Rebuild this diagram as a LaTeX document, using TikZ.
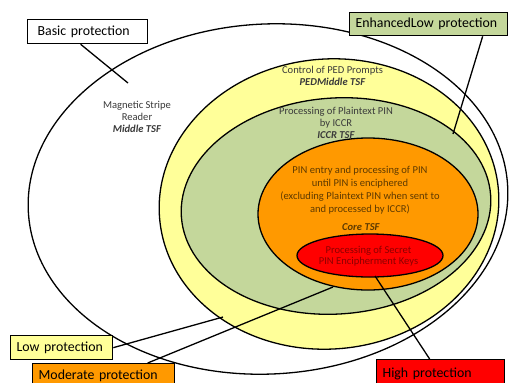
\documentclass[tikz,border=0pt]{standalone}
\usepackage{fontspec}
\setmainfont{Carlito}
\definecolor{yel}{HTML}{FFFF99}
\definecolor{grn}{HTML}{C4D79B}
\definecolor{org}{HTML}{FF9900}
\definecolor{rd}{HTML}{FF0000}
\definecolor{txtgray}{HTML}{3A3A3A}
\definecolor{txtbrown}{HTML}{5E3A00}
\definecolor{txtred}{HTML}{8C0000}
\newcommand{\smalltxt}{\fontsize{10.6}{12.3}\selectfont}
\newcommand{\biglab}{\fontsize{13.9}{16}\selectfont}
\tikzset{
  ring/.style={draw=black, line width=1.3bp},
  probox/.style={draw=black, line width=1.3bp, anchor=north west, font=\biglab,
    align=left, inner ysep=0pt, inner xsep=6bp, text=black},
  conn/.style={draw=black, line width=1.3bp},
  zonetxt/.style={align=center, inner sep=0pt, font=\smalltxt},
}
\begin{document}
\begin{tikzpicture}[x=1bp,y=-1bp]
\useasboundingbox (0,0) rectangle (509,382);
\clip (0,0) rectangle (509,382);
\fill[white] (0,0) rectangle (509,382);
% nested protection zones
\draw[ring, fill=white, rotate around={3:(268,199)}] (268,199) ellipse [x radius=240, y radius=175];
\draw[ring, fill=yel, rotate around={5:(329,204)}] (329,204) ellipse [x radius=170, y radius=145];
\draw[ring, fill=grn, rotate around={4:(336,206)}] (336,206) ellipse [x radius=155, y radius=108];
\draw[ring, fill=org] (368,214) ellipse [x radius=110, y radius=76];
\draw[ring, fill=rd] (370,255.5) ellipse [x radius=73, y radius=21.5];
% zone texts
\node[zonetxt, text=txtgray] (msr) at (137,117) {Magnetic Stripe\\Reader\\\textbf{\textit{Middle TSF}}};
\node[zonetxt, text=txtgray] (ped) at (332.5,76) {Control of PED Prompts\\\textbf{\textit{PEDMiddle TSF}}};
\node[zonetxt, text=txtgray] (iccr) at (336,123) {Processing of Plaintext PIN\\by ICCR\\\textbf{\textit{ICCR TSF}}};
\node[zonetxt, text=txtbrown, font=\fontsize{10.6}{13}\selectfont] (core) at (360,190.5) {PIN entry and processing of PIN\\until PIN is enciphered\\(excluding Plaintext PIN when sent to\\and processed by ICCR)};
\node[zonetxt, text=txtbrown] (coretsf) at (361,227) {\textbf{\textit{Core TSF}}};
\node[zonetxt, text=txtred, font=\fontsize{10.6}{11}\selectfont] (keys) at (368.5,256.5) {Processing of Secret\\PIN Encipherment Keys};
% connector end points
\coordinate (basicEnd) at (128,83);
\coordinate (enhEnd) at (453,134);
\coordinate (lowEnd) at (223,317);
\coordinate (modEnd) at (333,287);
\coordinate (highEnd) at (375,276);
% label boxes
\node[probox, fill=white, inner xsep=10bp, text width=100bp, minimum height=24bp] (basic) at (27,19) {Basic protection};
\node[probox, fill=grn, text width=146bp, minimum height=23bp] (enh) at (349,12) {EnhancedLow protection};
\node[probox, fill=yel, text width=90bp, minimum height=24bp] (low) at (10,335) {Low protection};
\node[probox, fill=org, text width=130bp, minimum height=24bp] (mod) at (32,363) {Moderate protection};
\node[probox, fill=rd, text width=116bp, minimum height=28bp] (high) at (376,359) {High protection};
% connectors
\draw[conn] ([xshift=-7bp]basic.south) -- (basicEnd);
\draw[conn] ([xshift=54bp]enh.south) -- (enhEnd);
\draw[conn] (low.east) -- (lowEnd);
\draw[conn] ([xshift=44bp]mod.north) -- (modEnd);
\draw[conn] ([xshift=-11bp]high.north) -- (highEnd);
\end{tikzpicture}
\end{document}
